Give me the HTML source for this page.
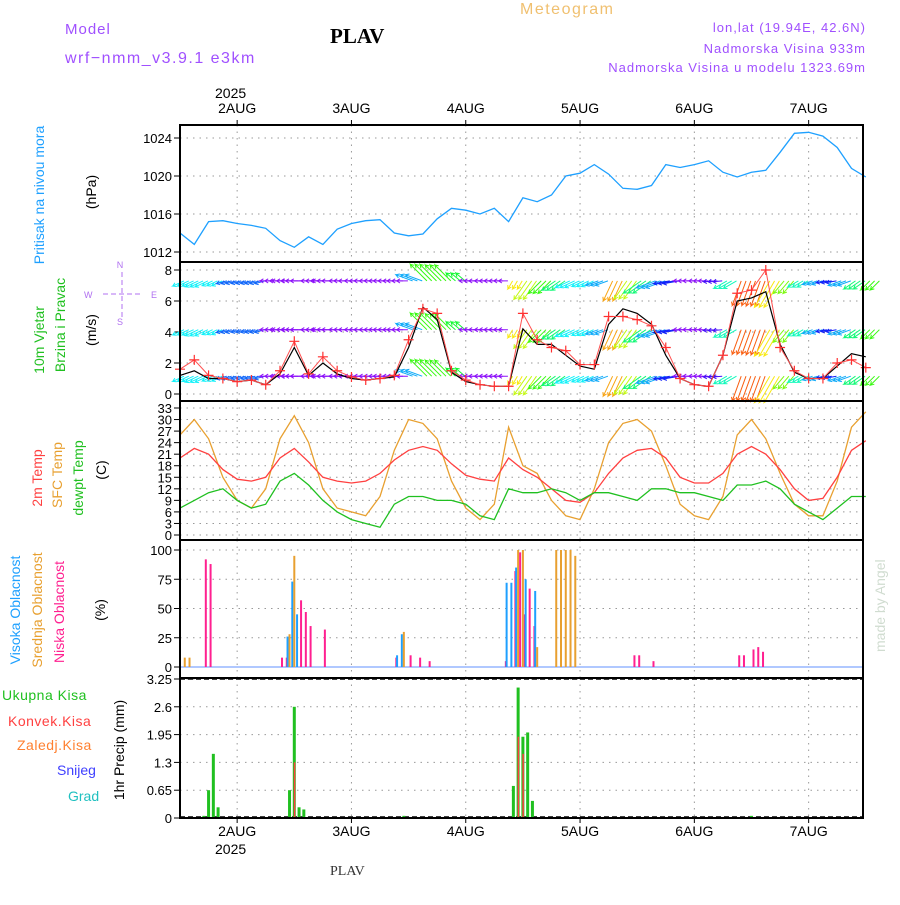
<!DOCTYPE html>
<html><head><meta charset="utf-8"><style>
body{margin:0;background:#fff}
svg text{font-family:"Liberation Sans",sans-serif}
svg text.serif{font-family:"Liberation Serif",serif}
</style></head><body>
<svg id="chart" width="900" height="900" viewBox="0 0 900 900" xmlns="http://www.w3.org/2000/svg">
<text x="65" y="34" fill="#a050ff" font-size="15" letter-spacing="1">Model</text>
<text x="65" y="63" fill="#a050ff" font-size="16" letter-spacing="1.5">wrf−nmm_v3.9.1 e3km</text>
<text class="serif" x="330" y="43" font-weight="bold" font-size="21">PLAV</text>
<text x="520" y="14" fill="#f0c070" font-size="16" letter-spacing="1.5">Meteogram</text>
<text x="866" y="32" fill="#a050ff" font-size="13" letter-spacing="1" text-anchor="end">lon,lat (19.94E, 42.6N)</text>
<text x="866" y="53" fill="#a050ff" font-size="13" letter-spacing="1" text-anchor="end">Nadmorska Visina 933m</text>
<text x="866" y="72" fill="#a050ff" font-size="13" letter-spacing="1" text-anchor="end">Nadmorska Visina u modelu 1323.69m</text>
<text transform="translate(885,652) rotate(-90)" fill="#d0dcd0" font-size="14">made by Angel</text>
<text class="serif" x="330" y="875" font-size="14" fill="#333">PLAV</text>
<text x="215" y="98" font-size="14">2025</text>
<text x="215" y="854" font-size="14">2025</text>

<text transform="translate(44,195) rotate(-90)" fill="#1ea0ff" font-size="14" text-anchor="middle">Pritisak na nivou mora</text>
<text transform="translate(96,192) rotate(-90)" font-size="14" text-anchor="middle">(hPa)</text>
<text transform="translate(44,340) rotate(-90)" fill="#20c020" font-size="14" text-anchor="middle">10m Vjetar</text>
<text transform="translate(65,325) rotate(-90)" fill="#20c020" font-size="14" text-anchor="middle">Brzina i Pravac</text>
<text transform="translate(96,330) rotate(-90)" font-size="14" text-anchor="middle">(m/s)</text>
<g fill="#b070f0" font-size="9" stroke="none">
<text x="120" y="268" text-anchor="middle">N</text><text x="120" y="325" text-anchor="middle">S</text>
<text x="84" y="298" >W</text><text x="151" y="298">E</text>
<line x1="103" y1="294" x2="140" y2="294" stroke="#b070f0" stroke-dasharray="5 3"/>
<line x1="122" y1="272" x2="122" y2="317" stroke="#b070f0" stroke-dasharray="5 3"/>
</g>
<text transform="translate(42,478) rotate(-90)" fill="#ff4040" font-size="14" text-anchor="middle">2m Temp</text>
<text transform="translate(62,475) rotate(-90)" fill="#e8a030" font-size="14" text-anchor="middle">SFC Temp</text>
<text transform="translate(83,478) rotate(-90)" fill="#20c020" font-size="14" text-anchor="middle">dewpt Temp</text>
<text transform="translate(106,470) rotate(-90)" font-size="14" text-anchor="middle">(C)</text>
<text transform="translate(20,610) rotate(-90)" fill="#1ea0ff" font-size="14" text-anchor="middle">Visoka Oblacnost</text>
<text transform="translate(42,610) rotate(-90)" fill="#e8a030" font-size="14" text-anchor="middle">Srednja Oblacnost</text>
<text transform="translate(64,612) rotate(-90)" fill="#ff2090" font-size="14" text-anchor="middle">Niska Oblacnost</text>
<text transform="translate(105,610) rotate(-90)" font-size="14" text-anchor="middle">(%)</text>
<text x="2" y="700" fill="#20c020" font-size="14" letter-spacing="0.5">Ukupna Kisa</text>
<text x="8" y="726" fill="#ff4040" font-size="14" letter-spacing="0.5">Konvek.Kisa</text>
<text x="17" y="750" fill="#ff8030" font-size="14" letter-spacing="0.5">Zaledj.Kisa</text>
<text x="57" y="775" fill="#4040ff" font-size="14">Snijeg</text>
<text x="68" y="801" fill="#20c0c0" font-size="14">Grad</text>
<text transform="translate(124,750) rotate(-90)" font-size="14" text-anchor="middle">1hr Precip (mm)</text>
<g id="plots"></g>
</svg>
<script>
const days=['2AUG','3AUG','4AUG','5AUG','6AUG','7AUG'];
const dayHours=[12,36,60,84,108,132];
const pressure=[1014.0,1012.8,1015.2,1015.3,1015.0,1014.8,1014.5,1013.2,1012.5,1013.6,1012.8,1014.4,1015.0,1015.3,1015.4,1014.0,1013.7,1013.9,1015.5,1016.6,1016.4,1016.0,1016.6,1015.2,1017.7,1017.3,1018.0,1020.0,1020.3,1021.2,1020.2,1018.7,1018.6,1019.0,1021.2,1020.9,1021.2,1021.6,1020.4,1019.9,1020.4,1020.6,1022.5,1024.5,1024.6,1024.2,1023.0,1020.8,1019.9];
const windSpeed=[1.6,2.2,1.2,1.0,0.8,0.9,0.6,1.5,3.4,1.3,2.4,1.5,1.1,0.9,1.0,1.2,3.5,5.5,5.2,1.5,0.9,0.6,0.5,0.5,5.2,3.5,3.0,2.8,1.9,1.9,5.0,5.0,4.8,4.4,3.0,1.0,0.6,0.5,2.5,6.5,6.7,8.0,3.0,1.5,1.0,1.0,2.0,2.2,1.7];
const windModel=[1.2,1.5,1.0,1.0,0.8,0.9,0.6,1.3,3.0,1.2,2.0,1.3,1.0,0.9,1.0,1.1,3.0,5.6,4.8,1.4,0.8,0.6,0.5,0.5,4.2,3.2,3.2,2.5,1.8,1.6,4.5,5.5,5.2,4.5,2.5,1.0,0.6,0.5,2.5,6.0,6.2,6.6,3.2,1.4,1.0,1.0,1.8,2.6,2.4];
const windDir=[205,205,205,195,195,195,180,180,180,180,180,180,180,180,180,180,160,135,135,140,180,180,180,240,235,225,215,205,205,200,245,235,215,200,190,180,180,185,210,250,250,240,230,210,200,190,200,215,225];
const temp2m=[20,22.5,21,17,14.5,14,15,20,22.5,19,15,14,13.5,14,16,19.5,22,23,22,18.5,15.5,14.5,14,20,17,15,12,9,8.5,11,16,20,22,22.5,20,15,13.5,13.5,16,21,23,21,17,12,9,9.5,15,22,24.5];
const tempSfc=[26,30,25,15,9,7,12,25,31,24,12,7,6,5,10,22,30,29,25,14,7,4,8,28,18,16,9,5,4,12,24,29,30,27,18,8,5,4,10,26,30,25,16,8,5,5,14,28,32];
const dewpt=[7,9,11,12,9,7,8,14,16,13,9,6,4,3,2,8,10,10,9,9,8,5,4,12,11,11,12,11,9,11,11,10,9,12,12,11,11,10,9,13,13,14,12,8,6,4,7,10,10];
const cloudHour=[1,2,5,6,21,22,23,24,25,26,27,30,45,46,47,48,50,52,68,69,70,71,72,73,74,75,79,80,81,82,83,95,96,99,117,118,120,121,122];
const cloudHigh=[0,0,0,0,0,0,26,73,45,0,0,0,0,10,28,0,0,0,0,72,72,85,0,75,0,65,0,0,0,0,0,0,0,0,0,0,0,0,0];
const cloudMid=[8,8,0,0,0,0,28,95,0,0,0,0,0,0,30,0,0,0,0,0,0,100,100,0,0,17,100,100,100,100,95,0,0,0,0,0,0,0,0];
const cloudLow=[0,0,92,88,8,8,0,0,57,47,35,32,8,0,0,10,8,5,5,0,82,98,45,67,35,0,0,0,0,0,0,10,10,5,10,10,15,17,13];
const precipHour=[5,6,7,8,23,24,25,26,47,70,71,72,73,74,120];
const precipTotal=[0.05,0.65,1.5,0.25,0.65,2.6,0.25,0.2,0.05,0.75,3.05,1.9,2.0,0.4,0.05];
const precipConv=[0,0,0,0,0,1.3,0,0,0,0,1.9,1.5,0,0,0];

const NS='http://www.w3.org/2000/svg';
const g=document.getElementById('plots');
const X0=180,X1=863,PXH=114.3/24;
const xs=h=>X0+h*PXH;
const xi=i=>xs(i*3);
function el(tag,attrs,parent){const e=document.createElementNS(NS,tag);for(const k in attrs)e.setAttribute(k,attrs[k]);(parent||g).appendChild(e);return e;}
function lin(v0,v1,p0,p1){return v=>p0+(v-v0)*(p1-p0)/(v1-v0);}
const yP=lin(1012,1024,252,138), yW=lin(0,8,394,270), yT=lin(0,33,535,408), yC=lin(0,100,667,550), yR=lin(0,3.25,818,679);
const panels=[[125,262],[262,401],[401,540],[540,678],[678,818]];
function grid(top,bot,ticks,yf,fmt,name){
  const gg=el('g',{});
  
  
  ticks.forEach(t=>{const y=yf(t);
    el('line',{x1:X0,x2:X1,y1:y,y2:y,stroke:'#999','stroke-dasharray':'1.5 5'},gg);
    el('line',{x1:X0-6,x2:X0,y1:y,y2:y,stroke:'#000'},gg);
    const tx=el('text',{x:X0-8,y:y+5,'font-size':13,'text-anchor':'end'},gg);tx.textContent=fmt(t);});
  dayHours.forEach(h=>{el('line',{x1:xs(h),x2:xs(h),y1:top,y2:bot,stroke:'#999','stroke-dasharray':'1.5 5'},gg);});
}
grid(125,262,[1012,1016,1020,1024],yP,String,'pressure');
grid(262,401,[0,2,4,6,8],yW,String,'wind');
grid(401,540,[0,3,6,9,12,15,18,21,24,27,30,33],yT,String,'temperature');
grid(540,678,[0,25,50,75,100],yC,String,'cloud');
grid(678,818,[0,0.65,1.3,1.95,2.6,3.25],yR,String,'precip');
days.forEach((d,k)=>{const x=xs(dayHours[k]);
  const t=el('text',{x:x,y:113,'font-size':14,'text-anchor':'middle'});t.textContent=d;
  
  
  const b=el('text',{x:x,y:836,'font-size':14,'text-anchor':'middle'});b.textContent=d;
  
  
  el('line',{x1:x,x2:x,y1:120,y2:125,stroke:'#000'});el('line',{x1:x,x2:x,y1:818,y2:823,stroke:'#000'});
});
function line(arr,yf,color,name,w){const p=arr.map((v,i)=>(i?'L':'M')+xi(i).toFixed(1)+' '+yf(v).toFixed(1)).join('');
  const e=el('path',{d:p,fill:'none',stroke:color,'stroke-width':w||1.3});
  
  return e;}
line(pressure,yP,'#1ea0ff','pressure-line');
// wind arrows: tail on row, head pointing along direction
const rows=[1.15,4.15,7.3];
windDir.forEach((d,i)=>{
  const dev=Math.abs(d-180);
  const hue=Math.max(20,272-dev*3.6);const col='hsl('+hue+',95%,52%)';
  const len=8+windSpeed[i]*2.8;const a=d*Math.PI/180;
  rows.forEach(r=>{for(let s=0;s<3;s++){
    const x=xi(i)+s*4.8+4, y=yW(r);
    const ex=x+Math.cos(a)*len, ey=y-Math.sin(a)*len;
    const ar=el('path',{d:`M${x.toFixed(1)} ${y.toFixed(1)}L${ex.toFixed(1)} ${ey.toFixed(1)}l${(Math.cos(a+2.6)*4).toFixed(1)} ${(-Math.sin(a+2.6)*4).toFixed(1)}M${ex.toFixed(1)} ${ey.toFixed(1)}l${(Math.cos(a-2.6)*4).toFixed(1)} ${(-Math.sin(a-2.6)*4).toFixed(1)}`,stroke:col,'stroke-width':1,fill:'none'});
    
    
  }});
});
line(windModel,yW,'#000','wind-speed-model-line',1.2);
line(windSpeed,yW,'#ff5050','wind-speed-line',1);
windSpeed.forEach((v,i)=>{const x=xi(i),y=yW(v);
  const m=el('path',{d:`M${x-5} ${y}h10M${x} ${y-5}v10`,stroke:'#ff3030','stroke-width':1.2});
  
  });
line(tempSfc,yT,'#e8a030','sfc-temp-line');
line(temp2m,yT,'#ff4040','temp-2m-line');
line(dewpt,yT,'#20c020','dewpoint-line');
el('line',{x1:X0,x2:X1,y1:yC(0),y2:yC(0),stroke:'#6090ff','stroke-width':1});
cloudHour.forEach((h,i)=>{const x=xs(h);
  [[cloudHigh[i],'#1ea0ff',-2,'cloud-high-bar'],[cloudMid[i],'#e8a030',0,'cloud-mid-bar'],[cloudLow[i],'#ff2090',2,'cloud-low-bar']].forEach(([v,c,o,n])=>{
    if(v>0){const r=el('rect',{x:x+o-1,y:yC(v),width:2,height:yC(0)-yC(v),fill:c});
      
      }});
});
el('line',{x1:X0,x2:X1,y1:yR(3.25),y2:yR(3.25),stroke:'#000','stroke-dasharray':'5 3','stroke-width':1.5});
el('line',{x1:X0,x2:X1,y1:yR(0)-1,y2:yR(0)-1,stroke:'#000','stroke-dasharray':'5 3','stroke-width':1.5});
precipHour.forEach((h,i)=>{const x=xs(h);
  const r=el('rect',{x:x-1.5,y:yR(precipTotal[i]),width:3,height:yR(0)-yR(precipTotal[i]),fill:'#20c020'});
  
  
  if(precipConv[i]>0){const c=el('rect',{x:x-0.5,y:yR(precipConv[i]),width:1.5,height:yR(0)-yR(precipConv[i]),fill:'#ff4040'});
    
    }
});
panels.forEach(([t,b])=>{const f=el('rect',{x:X0,y:t,width:X1-X0,height:b-t,fill:'none',stroke:'#000','stroke-width':2});
  
  });
</script>
</body></html>
